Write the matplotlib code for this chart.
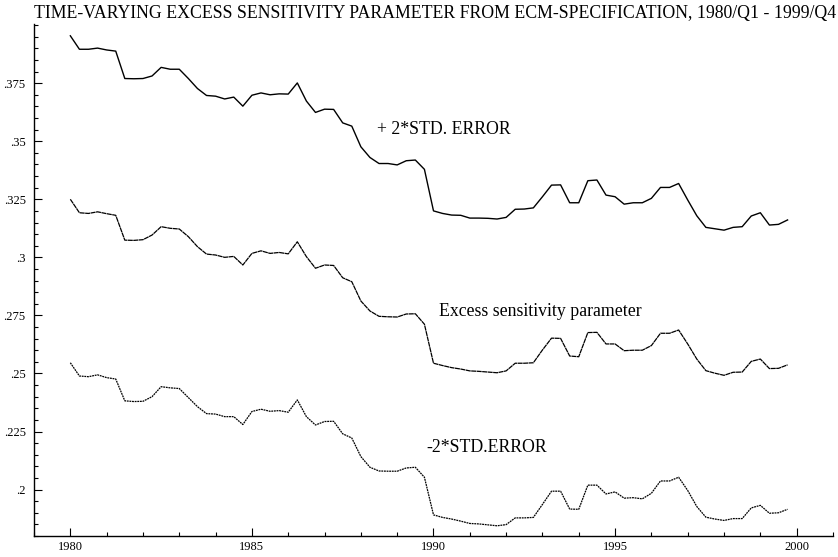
import numpy as np
import matplotlib
matplotlib.use("Agg")
import matplotlib.pyplot as plt
from matplotlib.ticker import FixedLocator, MultipleLocator

plt.rcParams['font.family'] = ['Liberation Serif', 'DejaVu Serif']

# quarterly estimates 1980/Q1 - 1999/Q4
upper = [0.3954, 0.3896, 0.3896, 0.3901, 0.3893, 0.3888, 0.3770, 0.3769, 0.3770, 0.3781,
         0.3818, 0.3810, 0.3810, 0.3770, 0.3727, 0.3697, 0.3694, 0.3682, 0.3690, 0.3651,
         0.3698, 0.3708, 0.3700, 0.3704, 0.3703, 0.3751, 0.3673, 0.3624, 0.3638, 0.3637,
         0.3579, 0.3565, 0.3476, 0.3430, 0.3404, 0.3404, 0.3398, 0.3416, 0.3419, 0.3379,
         0.3200, 0.3189, 0.3182, 0.3181, 0.3169, 0.3169, 0.3168, 0.3165, 0.3172, 0.3207,
         0.3208, 0.3213, 0.3261, 0.3311, 0.3312, 0.3235, 0.3235, 0.3330, 0.3333, 0.3268,
         0.3261, 0.3229, 0.3235, 0.3235, 0.3254, 0.3301, 0.3301, 0.3318, 0.3247, 0.3179,
         0.3129, 0.3123, 0.3117, 0.3129, 0.3132, 0.3178, 0.3192, 0.3139, 0.3142, 0.3161]

param = [0.3250, 0.3192, 0.3189, 0.3196, 0.3188, 0.3181, 0.3074, 0.3073, 0.3076, 0.3096,
         0.3132, 0.3125, 0.3122, 0.3089, 0.3046, 0.3014, 0.3010, 0.3000, 0.3004, 0.2967,
         0.3017, 0.3028, 0.3017, 0.3021, 0.3015, 0.3067, 0.3003, 0.2953, 0.2967, 0.2965,
         0.2912, 0.2895, 0.2812, 0.2769, 0.2746, 0.2744, 0.2743, 0.2756, 0.2757, 0.2712,
         0.2544, 0.2534, 0.2525, 0.2519, 0.2511, 0.2509, 0.2506, 0.2503, 0.2511, 0.2544,
         0.2544, 0.2546, 0.2601, 0.2652, 0.2651, 0.2575, 0.2572, 0.2676, 0.2677, 0.2627,
         0.2627, 0.2598, 0.2600, 0.2600, 0.2620, 0.2673, 0.2673, 0.2687, 0.2627, 0.2562,
         0.2512, 0.2501, 0.2492, 0.2505, 0.2506, 0.2552, 0.2562, 0.2521, 0.2522, 0.2537]

lower = [0.2546, 0.2489, 0.2486, 0.2494, 0.2482, 0.2476, 0.2382, 0.2379, 0.2380, 0.2400,
         0.2443, 0.2438, 0.2435, 0.2396, 0.2357, 0.2327, 0.2325, 0.2314, 0.2314, 0.2280,
         0.2336, 0.2346, 0.2337, 0.2340, 0.2333, 0.2386, 0.2314, 0.2278, 0.2293, 0.2294,
         0.2240, 0.2222, 0.2142, 0.2096, 0.2080, 0.2079, 0.2079, 0.2093, 0.2096, 0.2053,
         0.1891, 0.1880, 0.1873, 0.1864, 0.1854, 0.1852, 0.1848, 0.1844, 0.1849, 0.1878,
         0.1878, 0.1880, 0.1936, 0.1993, 0.1993, 0.1916, 0.1915, 0.2019, 0.2019, 0.1981,
         0.1990, 0.1963, 0.1965, 0.1960, 0.1984, 0.2037, 0.2037, 0.2053, 0.1996, 0.1927,
         0.1881, 0.1873, 0.1867, 0.1875, 0.1875, 0.1921, 0.1932, 0.1898, 0.1900, 0.1915]

t = 1980 + np.arange(len(param)) / 4

ytick_vals = [0.2, 0.225, 0.25, 0.275, 0.3, 0.325, 0.35, 0.375]
ytick_labels = ['.2', '.225', '.25', '.275', '.3', '.325', '.35', '.375']
xtick_vals = [1980, 1985, 1990, 1995, 2000]

fig = plt.figure(figsize=(8.38, 5.57), dpi=100)
ax = fig.add_axes([0.0406, 0.0377, 0.9534, 0.9193])

ax.plot(t, upper, color='black', lw=1.0)
ax.plot(t, param, color='black', lw=0.9, ls=(0, (4, 0.4)))
ax.plot(t, lower, color='black', lw=0.9, ls=(0, (1.5, 0.6)))

# series labels
ax.text(1988.45, 0.3549, '+ 2*STD. ERROR', fontsize=12.8, va='center')
ax.text(1990.15, 0.2768, 'Excess sensitivity parameter', fontsize=12.8, va='center')
ax.text(1989.8, 0.2183, '-2*STD.ERROR', fontsize=12.8, va='center')

ax.set_xlim(1979, 2001)
ax.set_ylim(0.18, 0.4005)

ax.xaxis.set_major_locator(FixedLocator(xtick_vals))
ax.xaxis.set_minor_locator(MultipleLocator(1))
ax.set_xticklabels([str(v) for v in xtick_vals])
ax.yaxis.set_major_locator(FixedLocator(ytick_vals))
ax.yaxis.set_minor_locator(MultipleLocator(0.005))
ax.set_yticklabels(ytick_labels)

ax.tick_params(which='both', direction='in', labelsize=9, width=0.8)
ax.tick_params(which='major', length=6)
ax.tick_params(which='minor', length=3)
ax.tick_params(axis='y', pad=6)

for side in ('top', 'right'):
    ax.spines[side].set_visible(False)
for side in ('left', 'bottom'):
    ax.spines[side].set_linewidth(1.0)

fig.text(0.0406, 0.976, 'TIME-VARYING EXCESS SENSITIVITY PARAMETER FROM ECM-SPECIFICATION, 1980/Q1 - 1999/Q4',
         fontsize=12.8, va='center', ha='left')

fig.savefig('out.png', dpi=100)
